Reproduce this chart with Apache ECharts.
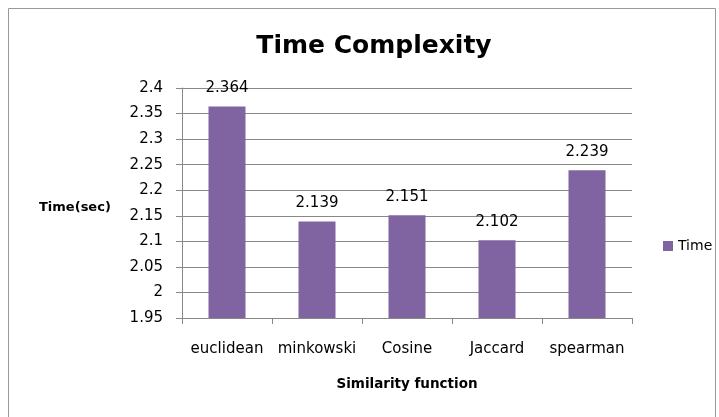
<!DOCTYPE html>
<html><head><meta charset="utf-8">
<script src="https://cdn.jsdelivr.net/npm/echarts@6/dist/echarts.min.js"></script>
<style>html,body{margin:0;padding:0;background:#fff}#c{width:719px;height:417px}</style>
</head><body><div id="c"></div>
<script>
const categories = ['euclidean','minkowski','Cosine','Jaccard','spearman'];
const timeValues = [2.364, 2.139, 2.151, 2.102, 2.239];
const yMin = 1.95, yMax = 2.4, yStep = 0.05;
const FONT = 'DejaVu Sans';
const chart = echarts.init(document.getElementById('c'));
chart.setOption({
  backgroundColor: '#fff',
  animation: false,
  title: [
    {text: 'Time Complexity', left: 369, top: 29, textAlign: 'center',
     textStyle: {fontFamily: FONT, fontWeight: 'bold', fontSize: 25, color: '#000'}},
    {text: 'Time(sec)', left: 34, top: 196,
     textStyle: {fontFamily: FONT, fontWeight: 'bold', fontSize: 13, color: '#000'}}
  ],
  graphic: [{type: 'rect', shape: {x: 8.5, y: 8.5, width: 707, height: 420},
    style: {fill: 'none', stroke: '#999', lineWidth: 1}, silent: true}],
  legend: {data: ['Time'], left: 658, top: 234, itemWidth: 10, itemHeight: 10, itemGap: 6,
    icon: 'rect', textStyle: {fontFamily: FONT, fontSize: 14, color: '#000'}},
  grid: {left: 182, right: 87, top: 88, bottom: 99, containLabel: false},
  xAxis: {type: 'category', data: categories,
    axisLine: {lineStyle: {color: '#888'}},
    axisTick: {show: true, length: 6, lineStyle: {color: '#888'}},
    axisLabel: {fontFamily: FONT, fontSize: 15, color: '#000', margin: 24, interval: 0},
    name: 'Similarity function', nameLocation: 'middle', nameGap: 59,
    nameTextStyle: {fontFamily: FONT, fontWeight: 'bold', fontSize: 13.5, color: '#000'}},
  yAxis: {type: 'value', min: yMin, max: yMax, interval: yStep,
    axisLine: {show: true, lineStyle: {color: '#888'}},
    axisTick: {show: true, length: 6, lineStyle: {color: '#888'}},
    splitLine: {lineStyle: {color: '#888'}},
    axisLabel: {fontFamily: FONT, fontSize: 15, color: '#000', margin: 19,
      formatter: v => String(parseFloat(v.toFixed(2)))}},
  series: [{name: 'Time', type: 'bar', data: timeValues, barWidth: 37,
    itemStyle: {color: '#8064A2'},
    label: {show: true, position: 'top', distance: 11, fontFamily: FONT, fontSize: 15, color: '#000',
      formatter: p => p.value.toFixed(3)}}]
});
</script></body></html>
